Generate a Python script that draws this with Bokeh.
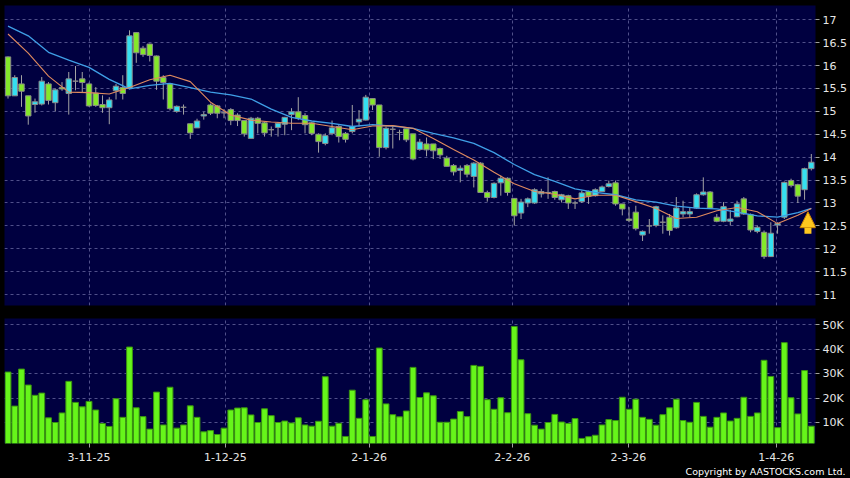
from bokeh.plotting import figure
from bokeh.layouts import column
from bokeh.models import (ColumnDataSource, Range1d, FixedTicker, NumeralTickFormatter,
                          CustomJSTickFormatter, Grid, Arrow, NormalHead, Title)
from bokeh.embed import file_html
from bokeh.resources import INLINE

# ---------------- data ----------------
opens = [16.19, 15.34, 15.60, 15.34, 15.15, 15.16, 15.60, 15.19, 15.52, 15.39,
         15.66, 15.71, 15.60, 15.40, 15.15, 15.08, 15.45, 15.52, 15.50, 16.72,
         16.38, 16.47, 16.21, 15.74, 15.60, 15.00, 15.09, 14.73, 14.64, 14.90,
         15.14, 15.12, 14.97, 15.04, 14.92, 14.80, 14.41, 14.85, 14.75, 14.60,
         14.65, 14.72, 14.93, 14.99, 14.91, 14.75, 14.50, 14.30, 14.52, 14.67,
         14.52, 14.56, 14.77, 14.81, 15.28, 15.14, 14.21, 14.61, 14.54, 14.62,
         14.51, 14.17, 14.29, 14.29, 14.19, 13.98, 13.82, 13.71, 13.82, 13.58,
         13.87, 13.23, 13.12, 13.44, 13.54, 13.10, 12.78, 13.00, 13.00, 13.20,
         13.23, 13.25, 13.07, 13.16, 13.00, 13.03, 13.25, 13.16, 13.25, 13.36,
         13.44, 12.98, 12.65, 12.80, 12.30, 12.50, 12.51, 12.58, 12.69, 12.46,
         12.76, 12.76, 12.89, 13.18, 13.24, 12.69, 12.60, 12.60, 12.70, 13.09,
         12.75, 12.38, 12.36, 11.83, 12.52, 12.69, 13.49, 13.40, 13.29, 13.75]
highs = [16.20, 15.79, 15.79, 15.34, 15.28, 15.75, 15.64, 15.50, 15.64, 15.86,
         15.99, 15.86, 15.63, 15.53, 15.35, 15.31, 15.60, 15.79, 16.77, 16.73,
         16.43, 16.48, 16.22, 15.79, 15.60, 15.13, 15.15, 14.73, 14.84, 14.99,
         15.17, 15.14, 15.05, 15.07, 14.96, 14.80, 14.88, 14.88, 14.77, 14.67,
         14.77, 14.88, 15.07, 15.31, 14.96, 14.77, 14.52, 14.52, 14.80, 14.70,
         14.55, 15.14, 15.03, 15.36, 15.28, 15.14, 14.67, 14.67, 14.60, 14.62,
         14.51, 14.40, 14.43, 14.29, 14.21, 14.03, 13.85, 13.82, 13.85, 13.89,
         13.89, 13.27, 13.45, 13.60, 13.56, 13.10, 13.09, 13.12, 13.32, 13.31,
         13.56, 13.27, 13.20, 13.18, 13.05, 13.27, 13.27, 13.32, 13.38, 13.49,
         13.49, 12.98, 12.91, 12.94, 12.40, 12.65, 12.94, 12.73, 12.76, 13.13,
         13.05, 12.91, 13.21, 13.56, 13.26, 12.76, 13.02, 12.85, 13.05, 13.13,
         12.77, 12.51, 12.40, 12.58, 12.58, 13.47, 13.53, 13.42, 13.77, 14.07]
lows = [15.28, 15.34, 15.10, 14.71, 14.97, 15.13, 15.15, 15.00, 15.45, 14.93,
        15.46, 15.42, 15.10, 15.10, 14.97, 14.72, 15.26, 15.26, 15.48, 16.06,
        16.19, 16.09, 15.47, 15.26, 15.02, 14.97, 14.93, 14.40, 14.64, 14.82,
        14.92, 14.85, 14.85, 14.70, 14.68, 14.45, 14.41, 14.52, 14.45, 14.45,
        14.45, 14.48, 14.59, 14.81, 14.52, 14.48, 14.10, 14.26, 14.48, 14.32,
        14.32, 14.52, 14.67, 14.80, 15.03, 14.01, 14.17, 14.19, 14.37, 14.33,
        13.93, 14.14, 14.02, 13.96, 13.96, 13.80, 13.60, 13.45, 13.56, 13.34,
        13.22, 13.03, 13.10, 13.16, 13.16, 12.51, 12.65, 12.91, 12.98, 13.12,
        13.09, 13.07, 13.01, 12.87, 12.87, 13.00, 12.98, 13.14, 13.24, 13.34,
        12.94, 12.73, 12.58, 12.40, 12.17, 12.33, 12.47, 12.33, 12.29, 12.44,
        12.69, 12.69, 12.87, 13.16, 12.87, 12.58, 12.58, 12.51, 12.69, 12.74,
        12.36, 12.34, 11.78, 11.82, 12.33, 12.65, 13.34, 13.00, 13.07, 13.71]
closes = [15.34, 15.74, 15.44, 14.90, 15.21, 15.66, 15.24, 15.47, 15.49, 15.71,
          15.66, 15.63, 15.12, 15.13, 15.08, 15.25, 15.55, 15.39, 16.65, 16.28,
          16.24, 16.22, 15.66, 15.63, 15.06, 15.11, 15.09, 14.53, 14.79, 14.93,
          14.96, 14.96, 14.97, 14.80, 14.80, 14.51, 14.85, 14.74, 14.53, 14.60,
          14.74, 14.87, 14.99, 14.85, 14.71, 14.52, 14.34, 14.47, 14.64, 14.45,
          14.39, 14.67, 14.83, 15.31, 15.14, 14.21, 14.63, 14.61, 14.54, 14.38,
          13.96, 14.33, 14.16, 14.14, 14.05, 13.80, 13.68, 13.76, 13.63, 13.87,
          13.23, 13.12, 13.43, 13.54, 13.23, 12.72, 13.02, 13.09, 13.29, 13.25,
          13.23, 13.12, 13.18, 13.00, 13.00, 13.22, 13.15, 13.29, 13.35, 13.42,
          12.98, 12.87, 12.62, 12.44, 12.38, 12.50, 12.92, 12.58, 12.40, 12.89,
          12.81, 12.81, 13.18, 13.24, 12.89, 12.60, 12.92, 12.65, 12.98, 12.76,
          12.41, 12.47, 11.83, 12.34, 12.55, 13.45, 13.38, 13.15, 13.75, 13.89]
volumes = [30600, 16700, 31800, 25300, 21100, 22000, 11900, 10000, 13900, 26800,
           18200, 16400, 18600, 15100, 9600, 8400, 19700, 12100, 40800, 16000,
           12400, 7300, 22400, 9000, 24400, 7700, 9000, 16800, 12100, 6200,
           6700, 5100, 7700, 15100, 15900, 16000, 13100, 10000, 15600, 12800,
           10000, 10600, 9800, 11900, 9000, 8500, 10500, 28700, 8500, 9700,
           4300, 23200, 11700, 19300, 4300, 40400, 17600, 13200, 12300, 14700,
           32500, 20200, 22100, 20900, 10100, 10100, 11400, 14500, 12400, 33300,
           32900, 19300, 15400, 20100, 14000, 49200, 35600, 13600, 8900, 7300,
           10000, 13300, 10200, 9600, 11600, 3500, 4200, 4800, 9000, 11200,
           10800, 20300, 15400, 19500, 12100, 11300, 8900, 13200, 16000, 19500,
           10800, 10100, 18200, 12500, 8100, 12100, 13900, 10600, 11700, 20300,
           12500, 13900, 35400, 28800, 7900, 42600, 20100, 13500, 31200, 8500]

# moving-average lines, every third session
ma_index = [0, 3, 6, 9, 12, 15, 18, 21, 24, 27, 30, 33, 36, 39, 42, 45, 48, 51, 54, 57,
            60, 63, 66, 69, 72, 75, 78, 81, 84, 87, 90, 93, 96, 99, 102, 105, 108, 111,
            114, 117, 119]
ma10 = [16.69, 16.27, 15.77, 15.42, 15.41, 15.38, 15.52, 15.69, 15.79, 15.65,
        15.20, 14.92, 14.81, 14.77, 14.74, 14.74, 14.67, 14.60, 14.68, 14.69,
        14.63, 14.41, 14.17, 13.94, 13.67, 13.42, 13.25, 13.19, 13.09, 13.17,
        13.17, 13.03, 12.88, 12.66, 12.69, 12.83, 12.90, 12.81, 12.55, 12.73, 12.88]
ma20 = [16.86, 16.65, 16.29, 16.12, 15.96, 15.70, 15.49, 15.57, 15.61, 15.52,
        15.42, 15.36, 15.27, 15.05, 14.87, 14.79, 14.74, 14.67, 14.71, 14.68,
        14.63, 14.52, 14.42, 14.30, 14.10, 13.84, 13.62, 13.47, 13.31, 13.23,
        13.18, 13.07, 13.02, 12.93, 12.89, 12.87, 12.80, 12.72, 12.69, 12.79, 12.88]

date_ticks = [12, 32.2, 53.5, 74.7, 91.9, 113.8]
date_labels = ["3-11-25", "1-12-25", "2-1-26", "2-2-26", "2-3-26", "1-4-26"]
price_ticks = [11, 11.5, 12, 12.5, 13, 13.5, 14, 14.5, 15, 15.5, 16, 16.5, 17]
volume_ticks = [10000, 20000, 30000, 40000, 50000]
signal_x = [118.5]
signal_y = [12.33, 12.81]
copyright_text = "Copyright by AASTOCKS.com Ltd."

# ---------------- styling ----------------
BG = "#000000"
PANEL = "#000040"
GRID = "#50508a"
UP = "#35dff0"
DOWN = "#84e82a"
VOL = "#66f51a"
FONT = "DejaVu Sans"
LABEL = "#e6e6e6"

idx = list(range(len(closes)))
src = ColumnDataSource(dict(
    x=idx,
    high=highs,
    low=lows,
    top=[max(o, c) for o, c in zip(opens, closes)],
    bottom=[min(o, c) for o, c in zip(opens, closes)],
    color=[UP if c >= o else DOWN for o, c in zip(opens, closes)],
    vol=volumes,
))

x_rng = Range1d(-0.52, 119.62)


def style(p):
    p.background_fill_color = PANEL
    p.border_fill_color = BG
    p.outline_line_color = None
    p.ygrid.grid_line_color = GRID
    p.ygrid.grid_line_dash = "3 3"
    p.xgrid.visible = False
    g = Grid(dimension=0, ticker=FixedTicker(ticks=date_ticks),
             grid_line_color=GRID, grid_line_dash="3 3")
    p.add_layout(g)
    ax = p.yaxis[0]
    ax.axis_line_color = None
    ax.major_tick_line_color = "#a0a0a0"
    ax.major_tick_out = 4
    ax.major_tick_in = 0
    ax.minor_tick_line_color = None
    ax.major_label_text_color = LABEL
    ax.major_label_text_font = FONT
    ax.major_label_text_font_size = "11px"
    ax.major_label_standoff = 3


# ---------------- price panel ----------------
p1 = figure(width=850, height=318, x_range=x_rng, y_range=Range1d(10.762, 17.312),
            x_axis_location=None, y_axis_location="right",
            output_backend="svg", toolbar_location=None,
            min_border_left=4, min_border_right=35, min_border_top=5, min_border_bottom=13)
style(p1)
p1.yaxis.ticker = FixedTicker(ticks=price_ticks)
p1.yaxis.formatter = NumeralTickFormatter(format="0.[0]")

p1.segment(x0="x", y0="low", x1="x", y1="high", source=src, line_color="#a3a3a3", line_width=1)
p1.vbar(x="x", width=0.8, top="top", bottom="bottom", source=src,
        fill_color="color", line_color="#8a8a8a", line_width=1)
p1.line(ma_index, ma20, line_color="#3f9fe6", line_width=1.3)
p1.line(ma_index, ma10, line_color="#e08a5e", line_width=1.1)

p1.add_layout(Arrow(end=NormalHead(size=16, fill_color="#ffc81e", line_color="#c98400", line_width=1),
                    x_start=signal_x[0], y_start=signal_y[0], x_end=signal_x[0], y_end=signal_y[1],
                    line_color="#ffc81e", line_width=7))

# ---------------- volume panel ----------------
p2 = figure(width=850, height=160, x_range=x_rng, y_range=Range1d(1430, 52450),
            y_axis_location="right", output_backend="svg", toolbar_location=None,
            min_border_left=4, min_border_right=35, min_border_top=0, min_border_bottom=35)
style(p2)
p2.yaxis.ticker = FixedTicker(ticks=volume_ticks)
p2.yaxis.formatter = CustomJSTickFormatter(code="return (tick / 1000).toFixed(0) + 'K';")
p2.vbar(x="x", width=0.86, top="vol", bottom=0, source=src,
        fill_color=VOL, line_color="#3a9410", line_width=1)

xa = p2.xaxis[0]
xa.ticker = FixedTicker(ticks=date_ticks)
xa.formatter = CustomJSTickFormatter(args=dict(pos=date_ticks, labs=date_labels),
                                     code="const k = pos.indexOf(tick); return k >= 0 ? labs[k] : '';")
xa.axis_line_color = None
xa.major_tick_line_color = "#a0a0a0"
xa.major_tick_out = 4
xa.major_tick_in = 0
xa.minor_tick_line_color = None
xa.major_label_text_color = LABEL
xa.major_label_text_font = FONT
xa.major_label_text_font_size = "11px"
xa.major_label_standoff = 5

p2.add_layout(Title(text=copyright_text, align="right", text_color="#ffffff",
                    text_font=FONT, text_font_size="9.5px", text_font_style="normal",
                    standoff=0, offset=-30), "below")

layout = column(p1, p2, spacing=0, styles={"background-color": BG})
open("out.html", "w").write(file_html(layout, INLINE))
